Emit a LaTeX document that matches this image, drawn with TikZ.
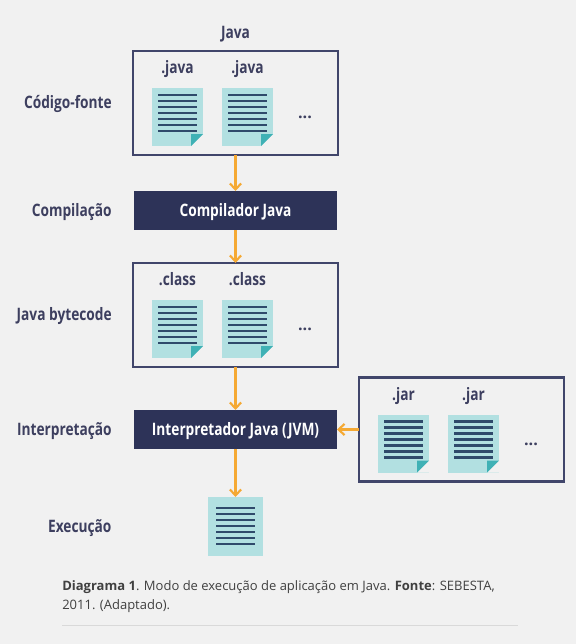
\documentclass[tikz,border=0pt]{standalone}
\usepackage{fontspec}
\setmainfont{Open Sans}
\newfontfamily\condfont[FakeStretch=0.8]{Open Sans}
\usetikzlibrary{positioning,arrows.meta}

\definecolor{navy}{HTML}{2D3358}
\definecolor{framecol}{HTML}{41466B}
\definecolor{labelcol}{HTML}{3D3F5F}
\definecolor{linecol}{HTML}{2F4A6B}
\definecolor{paper}{HTML}{B2E0E1}
\definecolor{foldcol}{HTML}{3FB1B5}
\definecolor{flowcol}{HTML}{F5A933}
\definecolor{pagebg}{HTML}{F1F1F1}

\tikzset{
	docicon/.pic={
			\node[docbody] (-body) at (0,0) {};
			\fill[pagebg] (0.6375,-0.425) -- (0.6375,-0.73) -- (0.3375,-0.73) -- cycle;
			\fill[foldcol] (0.6375,-0.425) -- (0.3375,-0.425) -- (0.3375,-0.725) -- cycle;
			\foreach \i in {0,...,6}
			\draw[docline] (-0.4875,0.55-0.15*\i) -- (0.4875,0.55-0.15*\i);
		}
}

\begin{document}
\begin{tikzpicture}[
		docbody/.style={
				fill=paper,
				minimum width=1.275cm,
				minimum height=1.45cm,
				inner sep=0pt
			},
		docline/.style={draw=linecol,line width=1.45pt},
		groupbox/.style={
				draw=framecol,
				line width=2.1pt,
				minimum width=5.125cm,
				minimum height=2.6cm,
				outer sep=0pt
			},
		stagebox/.style={
				fill=navy,
				text=white,
				minimum width=5.075cm,
				minimum height=0.975cm,
				outer sep=0pt,
				text height=8pt,
				text depth=0pt,
				font=\condfont\bfseries\fontsize{12.2}{14}\selectfont
			},
		sidelabel/.style={
				text=labelcol,
				inner sep=0pt,
				text height=8pt,
				text depth=0pt,
				font=\condfont\bfseries\fontsize{12.2}{14}\selectfont
			},
		filelabel/.style={sidelabel,anchor=base},
		moredots/.style={text=labelcol,inner sep=0pt,font=\bfseries\fontsize{11.5}{14}\selectfont},
		flow/.style={
				draw=flowcol,
				line width=1.5pt,
				-{Straight Barb[length=1.5mm,width=2.8mm]}
			}
	]

	\fill[pagebg] (0,0) rectangle (14.4,-16.1);
	\useasboundingbox (0,0) rectangle (14.4,-16.1);

	% source files
	\node[groupbox] (srcbox) at (5.8875,-2.575) {};
	\node[sidelabel,above=0.3cm of srcbox] (javatitle) {Java};
	\node[sidelabel,left=0.525cm of srcbox] (srclabel) {Código-fonte};
	\pic (srca) at ([xshift=1.1125cm,yshift=0.95cm]srcbox.south west) {docicon};
	\pic (srcb) at ([xshift=2.8625cm,yshift=0.95cm]srcbox.south west) {docicon};
	\node[filelabel] (srcatext) at ([yshift=0.35cm]srca-body.north) {.java};
	\node[filelabel] (srcbtext) at ([yshift=0.35cm]srcb-body.north) {.java};
	\node[moredots] (srcdots) at ([xshift=4.3cm,yshift=0.93cm]srcbox.south west) {...};

	% compiler
	\node[stagebox,below=0.9cm of srcbox] (compiler) {Compilador Java};
	\node[sidelabel,left=0.55cm of compiler] (complabel) {Compilação};

	% bytecode
	\node[groupbox,below=0.825cm of compiler] (bytebox) {};
	\node[sidelabel,left=0.525cm of bytebox] (bytelabel) {Java bytecode};
	\pic (bytea) at ([xshift=1.1125cm,yshift=0.95cm]bytebox.south west) {docicon};
	\pic (byteb) at ([xshift=2.8625cm,yshift=0.95cm]bytebox.south west) {docicon};
	\node[filelabel] (byteatext) at ([yshift=0.35cm]bytea-body.north) {.class};
	\node[filelabel] (bytebtext) at ([yshift=0.35cm]byteb-body.north) {.class};
	\node[moredots] (bytedots) at ([xshift=4.3cm,yshift=0.93cm]bytebox.south west) {...};

	% interpreter
	\node[stagebox,below=1.075cm of bytebox] (interp) {Interpretador Java (JVM)};
	\node[sidelabel,left=0.55cm of interp] (interplabel) {Interpretação};

	% libraries
	\node[groupbox,right=0.55cm of interp] (jarbox) {};
	\pic (jara) at ([xshift=1.1125cm,yshift=0.95cm]jarbox.south west) {docicon};
	\pic (jarb) at ([xshift=2.8625cm,yshift=0.95cm]jarbox.south west) {docicon};
	\node[filelabel] (jaratext) at ([yshift=0.35cm]jara-body.north) {.jar};
	\node[filelabel] (jarbtext) at ([yshift=0.35cm]jarb-body.north) {.jar};
	\node[moredots] (jardots) at ([xshift=4.3cm,yshift=0.93cm]jarbox.south west) {...};

	% execution
	\node[docbody,minimum width=1.375cm,minimum height=1.475cm,below=1.2cm of interp] (execdoc) {};
	\foreach \i in {0,...,6}
	\draw[docline] ([xshift=-0.4875cm,yshift=-0.275cm-0.15cm*\i]execdoc.north) -- ([xshift=0.4875cm,yshift=-0.275cm-0.15cm*\i]execdoc.north);
	\node[sidelabel,left=2.4cm of execdoc] (execlabel) {Execução};

	\draw[flow] (srcbox) -- (compiler);
	\draw[flow] (compiler) -- (bytebox);
	\draw[flow] (bytebox) -- (interp);
	\draw[flow] (interp) -- (execdoc);
	\draw[flow] (jarbox) -- (interp);

	% caption
	\node[anchor=north west,align=left,inner sep=0pt,text=black!75,
		font=\fontsize{9.25}{13.4}\selectfont] (caption) at (1.55,-14.5)
	{\textbf{Diagrama 1}. Modo de execução de aplicação em Java. \textbf{Fonte}: SEBESTA,\\2011. (Adaptado).};
	\coordinate (rulea) at (1.55,-15.625);
	\coordinate (ruleb) at (12.95,-15.625);
	\draw[black!15,line width=0.6pt] (rulea) -- (ruleb);

\end{tikzpicture}
\end{document}
